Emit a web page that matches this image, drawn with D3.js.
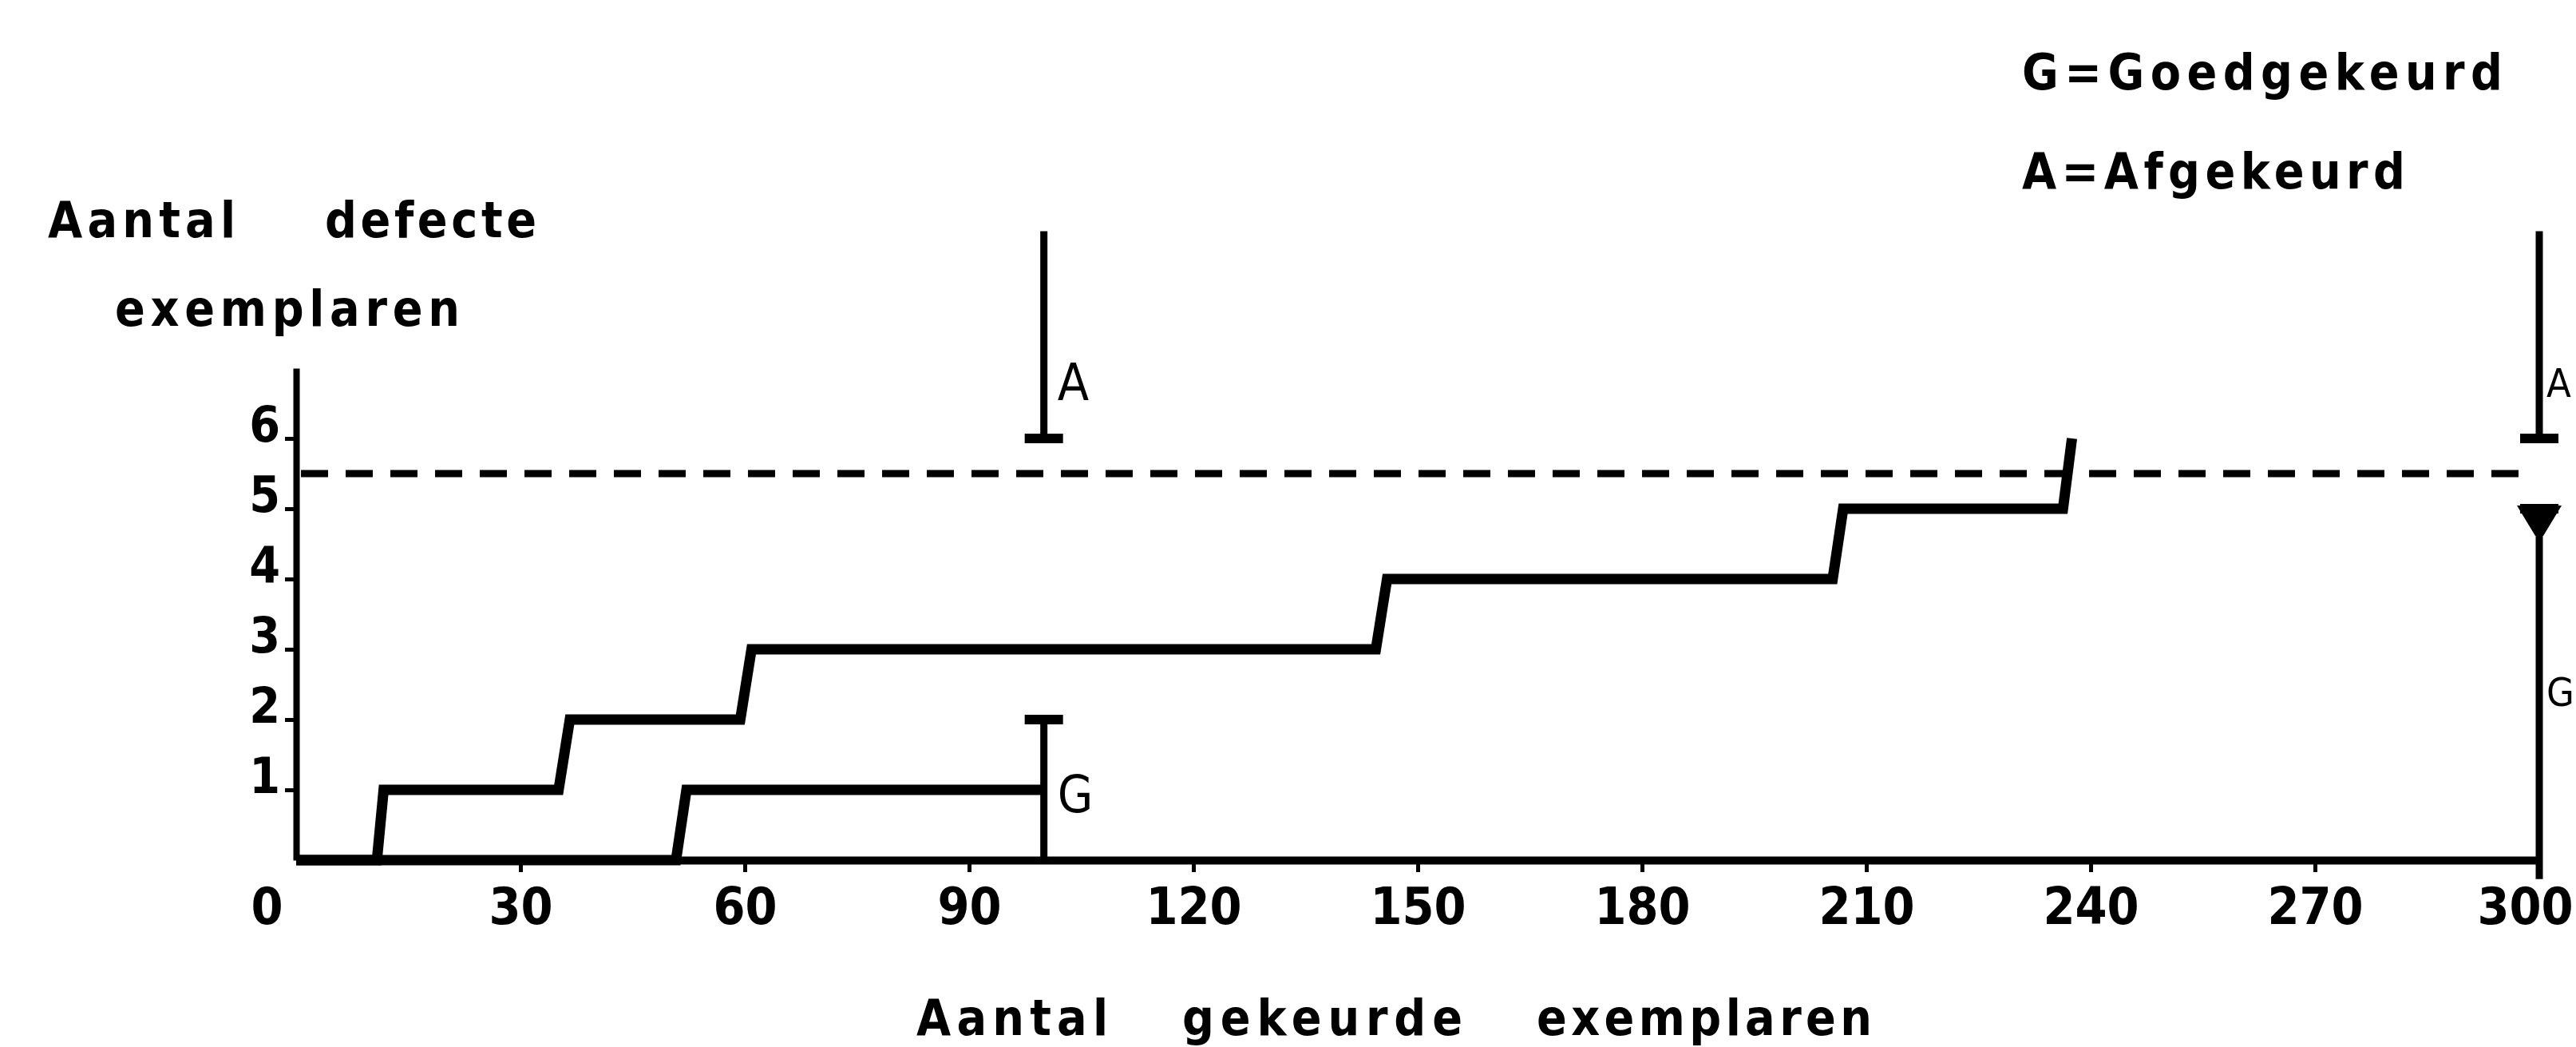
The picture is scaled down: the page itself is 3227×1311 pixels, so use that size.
<!DOCTYPE html>
<html><head><meta charset="utf-8">
<script src="https://cdn.jsdelivr.net/npm/d3@7"></script>
<style>html,body{margin:0;padding:0;background:#fff;overflow:hidden}</style>
</head><body>
<svg id="chart" width="3227" height="1311"></svg>
<script>
// ---- data ----
const xTickValues = [0, 30, 60, 90, 120, 150, 180, 210, 240, 270, 300];
const yTickValues = [1, 2, 3, 4, 5, 6];
const limitValue = 5.5;
// sample path 1 (rejected at 6 defects)
const upperX = [0, 10.8, 11.7, 35.1, 36.6, 59.4, 60.9, 144.4, 145.9, 205.5, 206.9, 236.3, 237.5];
const upperY = [0, 0, 1, 1, 2, 2, 3, 3, 4, 4, 5, 5, 6];
// sample path 2 (accepted at 100)
const lowerX = [0, 50.8, 52.2, 100];
const lowerY = [0, 0, 1, 1];
// decision bars
const barX = [100, 100, 300, 300];
const barFrom = [6, 0, 6, -0.27];
const barTo = [8.95, 2, 8.95, 5];
const barCap = [6, 2, 6, 5];
const barLabel = ["A", "G", "A", "G"];
const barLabelAt = [6.8, 0.93, 6.78, 2.39];
const legendLines = ["G=Goedgekeurd", "A=Afgekeurd"];
const yTitleWords = ["Aantal", "defecte", "exemplaren"];
const xTitleWords = ["Aantal", "gekeurde", "exemplaren"];

// ---- drawing ----
const svg = d3.select("#chart");
const FONT = "'Liberation Sans Narrow','DejaVu Sans Condensed','Liberation Sans',Arial,sans-serif";
const x = d3.scaleLinear().domain([0, 300]).range([371, 3181]);
const y = d3.scaleLinear().domain([0, 7]).range([1077, 461]);

// x axis
const gx = svg.append("g").attr("transform", `translate(0,${y(0)})`)
  .call(d3.axisBottom(x).tickValues(xTickValues).tickSize(15).tickSizeOuter(0).tickFormat(d3.format("d")));
gx.select(".domain").attr("stroke", "#000").attr("stroke-width", 10);
gx.selectAll(".tick line").attr("stroke", "#000").attr("stroke-width", 5)
  .filter(d => d === 0 || d === 300).remove();
gx.selectAll(".tick text")
  .attr("y", 80).attr("dy", null)
  .attr("x", d => d === 0 ? -37 : (d === 300 ? -18 : 0))
  .style("font-family", FONT).style("font-size", "64px").style("font-weight", "bold").attr("fill", "#000");

// y axis
const gy = svg.append("g").attr("transform", `translate(${x(0)},0)`)
  .call(d3.axisLeft(y).tickValues(yTickValues).tickSize(14).tickSizeOuter(0).tickFormat(d3.format("d")));
gy.select(".domain").attr("stroke", "#000").attr("stroke-width", 8);
gy.selectAll(".tick line").attr("stroke", "#000").attr("stroke-width", 5);
gy.selectAll(".tick text")
  .attr("x", -20).attr("y", 3).attr("dy", null)
  .style("font-family", FONT).style("font-size", "62px").style("font-weight", "bold").attr("fill", "#000");

// limit dashed line
svg.append("line")
  .attr("x1", x(0) + 6).attr("x2", x(298.5))
  .attr("y1", y(limitValue)).attr("y2", y(limitValue))
  .attr("stroke", "#000").attr("stroke-width", 9).attr("stroke-dasharray", "34 22");

// step paths
const line = d3.line().x(d => x(d[0])).y(d => y(d[1]));
[[upperX, upperY], [lowerX, lowerY]].forEach(([xs, ys]) => {
  svg.append("path")
    .datum(xs.map((v, i) => [v, ys[i]]))
    .attr("d", line)
    .attr("fill", "none").attr("stroke", "#000")
    .attr("stroke-width", 13).attr("stroke-linejoin", "miter");
});

// decision bars
const bars = barX.map((v, i) => ({x: v, from: barFrom[i], to: barTo[i], cap: barCap[i], label: barLabel[i], at: barLabelAt[i]}));
const gb = svg.append("g");
gb.selectAll("line.bar").data(bars).join("line").attr("class", "bar")
  .attr("x1", d => x(d.x)).attr("x2", d => x(d.x))
  .attr("y1", d => y(d.from)).attr("y2", d => y(d.to))
  .attr("stroke", "#000").attr("stroke-width", 9);
gb.selectAll("rect.cap").data(bars).join("rect").attr("class", "cap")
  .attr("x", d => x(d.x) - 24).attr("width", 48)
  .attr("y", d => y(d.cap) - 6).attr("height", 12).attr("fill", "#000");
gb.selectAll("path.wedge").data(bars.filter(d => d.x === 300 && d.to === d.cap)).join("path").attr("class", "wedge")
  .attr("d", d => `M${x(d.x) - 28},${y(d.cap) - 4} L${x(d.x) + 28},${y(d.cap) - 4} L${x(d.x) + 5},${y(d.cap) + 34} L${x(d.x) - 5},${y(d.cap) + 34} Z`)
  .attr("fill", "#000");
const edge = d => d.x === 300;
gb.selectAll("text.lab").data(bars).join("text").attr("class", "lab")
  .attr("x", d => x(d.x) + (edge(d) ? 9 : 17)).attr("y", d => y(d.at))
  .attr("dominant-baseline", "central")
  .style("font-family", FONT).style("font-size", d => edge(d) ? "50px" : "64px").attr("fill", "#000")
  .text(d => d.label);

// titles and legend
function word(txt, x0, x1, base, size) {
  svg.append("text").attr("x", x0).attr("y", base)
    .attr("textLength", x1 - x0).attr("lengthAdjust", "spacing")
    .style("font-family", FONT).style("font-size", size + "px").style("font-weight", "bold")
    .attr("fill", "#000").text(txt);
}
word(yTitleWords[0], 60, 295, 297, 62);
word(yTitleWords[1], 407, 672, 297, 62);
word(yTitleWords[2], 144, 576, 408, 62);
word(xTitleWords[0], 1148, 1388, 1296, 62);
word(xTitleWords[1], 1481, 1832, 1296, 62);
word(xTitleWords[2], 1925, 2345, 1296, 62);
word(legendLines[0], 2533, 3135, 112, 62);
word(legendLines[1], 2533, 3013, 236, 62);
</script>
</body></html>
